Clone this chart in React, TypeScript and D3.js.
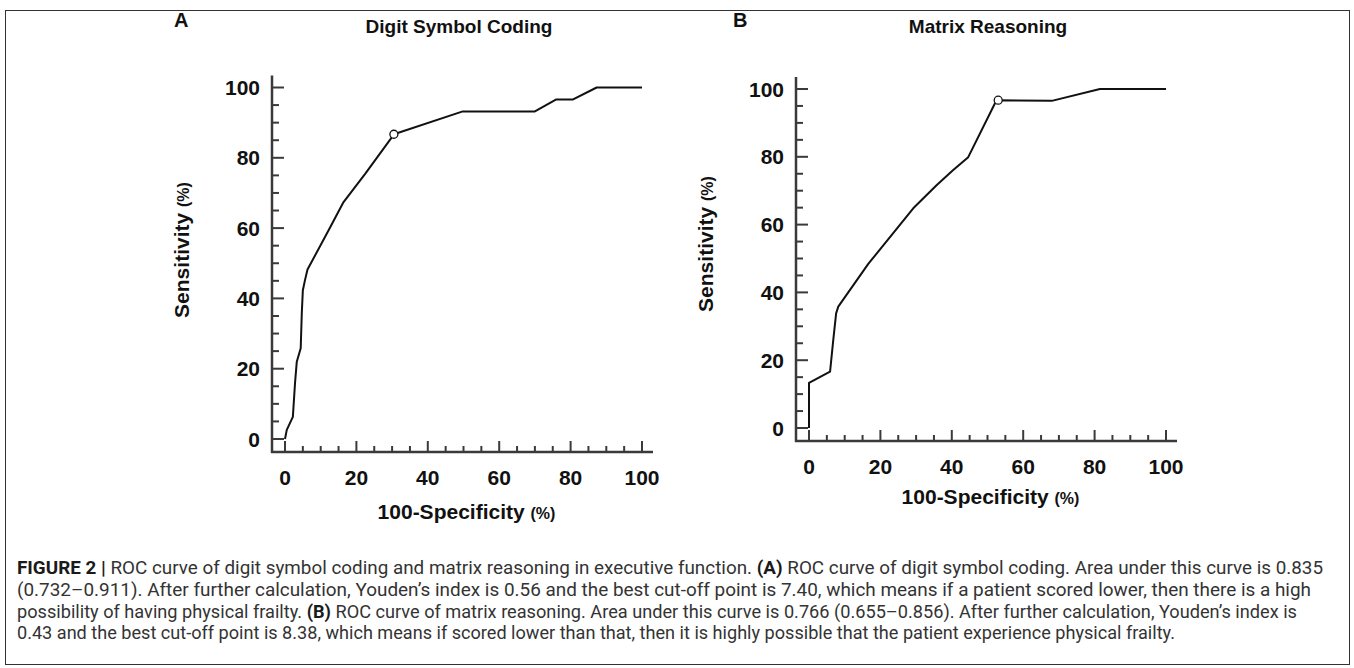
import * as d3 from "d3";

// ROC curve A: Digit Symbol Coding (100-specificity, sensitivity in %)
const fprA = [0, 0.5, 2.2, 2.8, 3.3, 4.4, 4.7, 5.0, 5.6, 6.3, 12.7, 16.4, 22.5, 29.6, 30.5, 49.8, 70, 76, 80.7, 87.3, 100];
const tprA = [0, 2.6, 6.3, 15.8, 22, 25.8, 35.7, 42.3, 45.2, 48.2, 60.3, 67.4, 75.5, 85.4, 86.7, 93.2, 93.2, 96.6, 96.6, 100, 100];
const bestA = [30.5, 86.7];

// ROC curve B: Matrix Reasoning
const fprB = [0, 0, 5.9, 6.8, 7.6, 8.2, 16.6, 29.2, 35.8, 40.4, 44.6, 52.1, 53.0, 68, 81.5, 100];
const tprB = [0, 13.3, 16.6, 26, 33.8, 35.8, 48.4, 64.8, 71.7, 76.1, 79.9, 95.8, 96.7, 96.5, 100, 100];
const bestB = [53.0, 96.7];

const majorTicks = [0, 20, 40, 60, 80, 100];
const minorTicks = d3.range(0, 101, 5);

const titles = ["Digit Symbol Coding", "Matrix Reasoning"];
const letters = ["A", "B"];

const captionLines = [
  [
    { t: "FIGURE 2", b: true },
    { t: " | ", b: true },
    { t: "ROC curve of digit symbol coding and matrix reasoning in executive function. ", b: false },
    { t: "(A)", b: true },
    { t: " ROC curve of digit symbol coding. Area under this curve is 0.835", b: false },
  ],
  [
    { t: "(0.732–0.911). After further calculation, Youden’s index is 0.56 and the best cut-off point is 7.40, which means if a patient scored lower, then there is a high", b: false },
  ],
  [
    { t: "possibility of having physical frailty. ", b: false },
    { t: "(B)", b: true },
    { t: " ROC curve of matrix reasoning. Area under this curve is 0.766 (0.655–0.856). After further calculation, Youden’s index is", b: false },
  ],
  [
    { t: "0.43 and the best cut-off point is 8.38, which means if scored lower than that, then it is highly possible that the patient experience physical frailty.", b: false },
  ],
];
const captionWidths = [1306, 1294, 1280, 1158];

const font = "'Liberation Sans', Arial, sans-serif";

type PanelProps = {
  fpr: number[];
  tpr: number[];
  best: number[];
  title: string;
  letter: string;
  x0: number;
  x1: number;
  y0: number;
  y1: number;
  letterX: number;
  titleX: number;
  ylabelX: number;
  ylabelY: number;
  xlabelY: number;
};

function Panel(p: PanelProps) {
  const x = d3.scaleLinear().domain([0, 100]).range([p.x0, p.x1]);
  const y = d3.scaleLinear().domain([0, 100]).range([p.y0, p.y1]);
  const off = 13;
  const axisX = p.x0 - off;
  const axisY = p.y0 + off;
  const pts = p.fpr.map((f, i) => [f, p.tpr[i]] as [number, number]);
  const line = d3
    .line<[number, number]>()
    .x((d) => x(d[0]))
    .y((d) => y(d[1]));
  const axisColor = "#3a3a3a";
  const midX = (p.x0 + p.x1) / 2;

  return (
    <g>
      <text x={p.letterX} y={27} fontFamily={font} fontWeight="bold" fontSize={20} fill="#111">
        {p.letter}
      </text>
      <text x={p.titleX} y={33} textAnchor="middle" fontFamily={font} fontWeight="bold" fontSize={19} fill="#111">
        {p.title}
      </text>

      {/* y axis */}
      <line x1={axisX} x2={axisX} y1={p.y1 - 12} y2={axisY + 1} stroke={axisColor} strokeWidth={2.5} />
      {minorTicks.map((t) => (
        <line
          key={"ym" + t}
          x1={axisX}
          x2={axisX + (t % 20 === 0 ? 12 : 7)}
          y1={y(t)}
          y2={y(t)}
          stroke={axisColor}
          strokeWidth={2}
        />
      ))}
      {majorTicks.map((t) => (
        <text
          key={"yl" + t}
          x={axisX - 12}
          y={y(t)}
          dy="0.36em"
          textAnchor="end"
          fontFamily={font}
          fontWeight="bold"
          fontSize={21}
          fill="#111"
        >
          {t}
        </text>
      ))}

      {/* x axis */}
      <line x1={axisX - 1} x2={p.x1 + 11} y1={axisY} y2={axisY} stroke={axisColor} strokeWidth={2.5} />
      {minorTicks.map((t) => (
        <line
          key={"xm" + t}
          x1={x(t)}
          x2={x(t)}
          y1={axisY}
          y2={axisY - (t % 20 === 0 ? 11 : 6)}
          stroke={axisColor}
          strokeWidth={2}
        />
      ))}
      {majorTicks.map((t) => (
        <text
          key={"xl" + t}
          x={x(t)}
          y={axisY + 25}
          dy="0.36em"
          textAnchor="middle"
          fontFamily={font}
          fontWeight="bold"
          fontSize={21}
          fill="#111"
        >
          {t}
        </text>
      ))}

      {/* axis titles */}
      <text x={midX + 3} y={p.xlabelY} textAnchor="middle" fontFamily={font} fontWeight="bold" fill="#111">
        <tspan fontSize={21}>100-Specificity </tspan>
        <tspan fontSize={16}>(%)</tspan>
      </text>
      <text
        transform={`translate(${p.ylabelX},${p.ylabelY}) rotate(-90)`}
        textAnchor="middle"
        fontFamily={font}
        fontWeight="bold"
        fill="#111"
      >
        <tspan fontSize={21}>Sensitivity </tspan>
        <tspan fontSize={16}>(%)</tspan>
      </text>

      {/* curve */}
      <path d={line(pts) || ""} fill="none" stroke="#111" strokeWidth={2} strokeLinejoin="round" />
      <circle cx={x(p.best[0])} cy={y(p.best[1])} r={4} fill="#fff" stroke="#111" strokeWidth={1.3} />
    </g>
  );
}

export default function App() {
  return (
    <div style={{ position: "absolute", left: 0, top: 0 }}>
      <svg width={1354} height={668} style={{ display: "block", background: "#fff" }}>
        <rect x={5.5} y={10.5} width={1344} height={654} fill="#fff" stroke="#333" strokeWidth={1} />

        <Panel
          fpr={fprA}
          tpr={tprA}
          best={bestA}
          title={titles[0]}
          letter={letters[0]}
          x0={285}
          x1={642}
          y0={439}
          y1={87.5}
          letterX={174}
          titleX={459}
          ylabelX={189}
          ylabelY={250}
          xlabelY={519}
        />
        <Panel
          fpr={fprB}
          tpr={tprB}
          best={bestB}
          title={titles[1]}
          letter={letters[1]}
          x0={809}
          x1={1166}
          y0={428}
          y1={89}
          letterX={733}
          titleX={988}
          ylabelX={713}
          ylabelY={244}
          xlabelY={504}
        />

        {captionLines.map((ln, i) => (
          <text
            key={"cap" + i}
            x={17}
            y={574 + i * 21.8}
            fontFamily="'Roboto', 'Liberation Sans', Arial, sans-serif"
            fontSize={18}
            fill="#333"
            textLength={captionWidths[i]}
            lengthAdjust="spacingAndGlyphs"
          >
            {ln.map((s, j) => (
              <tspan key={j} fontWeight={s.b ? "bold" : "normal"} fill={s.b ? "#1a1a1a" : "#333"}>
                {s.t}
              </tspan>
            ))}
          </text>
        ))}
      </svg>
    </div>
  );
}
